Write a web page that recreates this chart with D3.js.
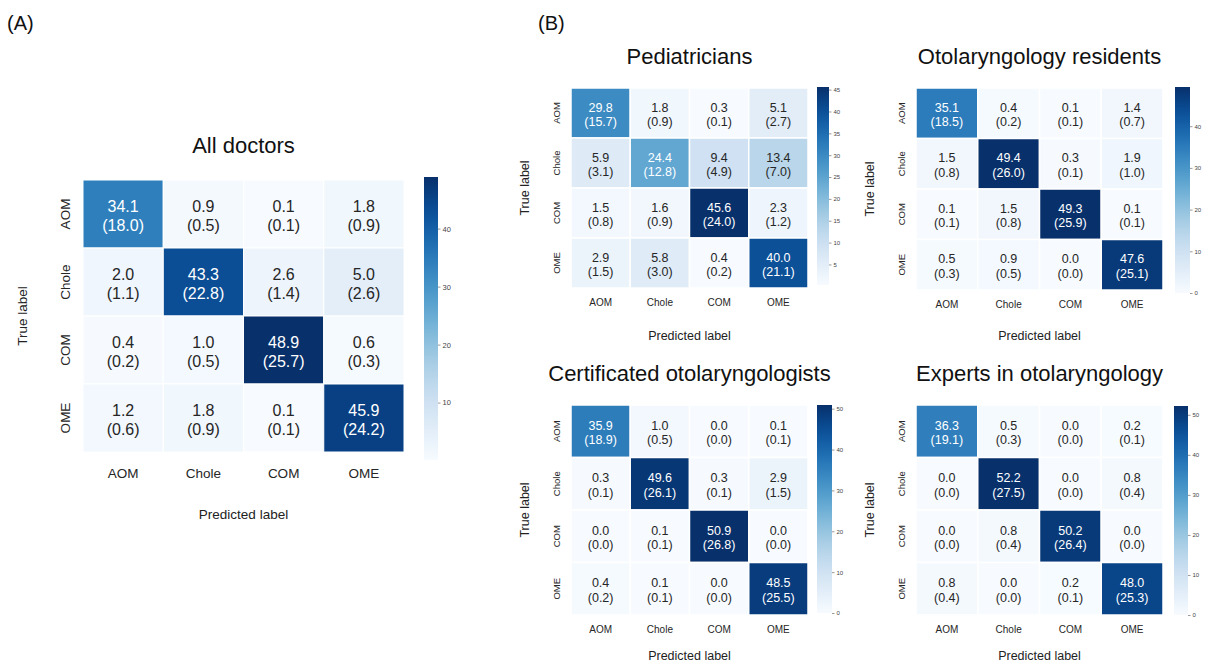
<!DOCTYPE html>
<html>
<head>
<meta charset="utf-8">
<script src="https://cdn.jsdelivr.net/npm/d3@7"></script>
<style>
  html, body { margin: 0; padding: 0; background: #fff; }
  svg { display: block; font-family: "Liberation Sans", Arial, Helvetica, sans-serif; }
</style>
</head>
<body>
<svg id="fig" width="1210" height="667"></svg>
<script>
// Class labels shared by every confusion matrix
const classes = ["AOM", "Chole", "COM", "OME"];

// Row = true label, column = predicted label; [percentage, (count)]
const allDoctorsPct = [
  [34.1, 0.9, 0.1, 1.8],
  [2.0, 43.3, 2.6, 5.0],
  [0.4, 1.0, 48.9, 0.6],
  [1.2, 1.8, 0.1, 45.9]
];
const allDoctorsCnt = [
  [18.0, 0.5, 0.1, 0.9],
  [1.1, 22.8, 1.4, 2.6],
  [0.2, 0.5, 25.7, 0.3],
  [0.6, 0.9, 0.1, 24.2]
];

const pediatriciansPct = [
  [29.8, 1.8, 0.3, 5.1],
  [5.9, 24.4, 9.4, 13.4],
  [1.5, 1.6, 45.6, 2.3],
  [2.9, 5.8, 0.4, 40.0]
];
const pediatriciansCnt = [
  [15.7, 0.9, 0.1, 2.7],
  [3.1, 12.8, 4.9, 7.0],
  [0.8, 0.9, 24.0, 1.2],
  [1.5, 3.0, 0.2, 21.1]
];

const residentsPct = [
  [35.1, 0.4, 0.1, 1.4],
  [1.5, 49.4, 0.3, 1.9],
  [0.1, 1.5, 49.3, 0.1],
  [0.5, 0.9, 0.0, 47.6]
];
const residentsCnt = [
  [18.5, 0.2, 0.1, 0.7],
  [0.8, 26.0, 0.1, 1.0],
  [0.1, 0.8, 25.9, 0.1],
  [0.3, 0.5, 0.0, 25.1]
];

const certifiedPct = [
  [35.9, 1.0, 0.0, 0.1],
  [0.3, 49.6, 0.3, 2.9],
  [0.0, 0.1, 50.9, 0.0],
  [0.4, 0.1, 0.0, 48.5]
];
const certifiedCnt = [
  [18.9, 0.5, 0.0, 0.1],
  [0.1, 26.1, 0.1, 1.5],
  [0.0, 0.1, 26.8, 0.0],
  [0.2, 0.1, 0.0, 25.5]
];

const expertsPct = [
  [36.3, 0.5, 0.0, 0.2],
  [0.0, 52.2, 0.0, 0.8],
  [0.0, 0.8, 50.2, 0.0],
  [0.8, 0.0, 0.2, 48.0]
];
const expertsCnt = [
  [19.1, 0.3, 0.0, 0.1],
  [0.0, 27.5, 0.0, 0.4],
  [0.0, 0.4, 26.4, 0.0],
  [0.4, 0.0, 0.1, 25.3]
];

// Colour-bar tick values for each panel
const allDoctorsTicks = [10, 20, 30, 40];
const pediatriciansTicks = [5, 10, 15, 20, 25, 30, 35, 40, 45];
const residentsTicks = [0, 10, 20, 30, 40];
const certifiedTicks = [0, 10, 20, 30, 40, 50];
const expertsTicks = [0, 10, 20, 30, 40, 50];

const svg = d3.select("#fig");
const defs = svg.append("defs");

// Relative luminance, used to pick white or dark annotation text
function luminance(c) {
  const rgb = d3.rgb(c);
  const f = v => { v /= 255; return v <= 0.03928 ? v / 12.92 : Math.pow((v + 0.055) / 1.055, 2.4); };
  return 0.2126 * f(rgb.r) + 0.7152 * f(rgb.g) + 0.0722 * f(rgb.b);
}

function drawMatrix(opt) {
  const { pct, cnt, ticks, title, x0, y0, w, h, cb, sty, xlabGap } = opt;
  const g = svg.append("g");
  const flat = pct.flat();
  const vmin = d3.min(flat), vmax = d3.max(flat);
  const color = d3.scaleSequential(d3.interpolateBlues).domain([vmin, vmax]);

  const xs = d3.scaleBand().domain(classes).range([x0, x0 + w]);
  const ys = d3.scaleBand().domain(classes).range([y0, y0 + h]);

  const cells = [];
  pct.forEach((row, i) => row.forEach((v, j) => cells.push({ i, j, v, c: cnt[i][j] })));

  g.selectAll("rect.cell").data(cells).join("rect")
    .attr("class", "cell")
    .attr("x", d => xs(classes[d.j]))
    .attr("y", d => ys(classes[d.i]))
    .attr("width", xs.bandwidth())
    .attr("height", ys.bandwidth())
    .attr("fill", d => color(d.v))
    .attr("stroke", "#fff")
    .attr("stroke-width", sty.gap);

  const txt = g.selectAll("text.ann").data(cells).join("text")
    .attr("class", "ann")
    .attr("text-anchor", "middle")
    .attr("font-size", sty.ann)
    .attr("fill", d => luminance(color(d.v)) < 0.408 ? "#ffffff" : "#262626");
  txt.append("tspan")
    .attr("x", d => xs(classes[d.j]) + xs.bandwidth() / 2)
    .attr("y", d => ys(classes[d.i]) + ys.bandwidth() / 2 - sty.ann * 0.12)
    .text(d => d.v.toFixed(1));
  txt.append("tspan")
    .attr("x", d => xs(classes[d.j]) + xs.bandwidth() / 2)
    .attr("y", d => ys(classes[d.i]) + ys.bandwidth() / 2 + sty.ann * 1.05)
    .text(d => "(" + d.c.toFixed(1) + ")");

  // Axes (seaborn style: no spines, ticks without lines)
  const xAxis = g.append("g")
    .attr("transform", `translate(0,${y0 + h})`)
    .call(d3.axisBottom(xs).tickSize(0).tickPadding(sty.xpad));
  xAxis.select(".domain").remove();
  xAxis.selectAll("text").attr("font-size", sty.tick).attr("fill", "#262626")
    .attr("font-family", "Liberation Sans, Arial, sans-serif");

  const yAxis = g.append("g")
    .attr("transform", `translate(${x0},0)`)
    .call(d3.axisLeft(ys).tickSize(0).tickPadding(sty.ypad));
  yAxis.select(".domain").remove();
  // Row labels are rotated and centred on their row
  yAxis.selectAll(".tick").each(function (d) {
    const t = d3.select(this);
    t.attr("transform", `translate(0,${ys(d) + ys.bandwidth() / 2})`);
    t.select("text")
      .attr("font-size", sty.ytick).attr("fill", "#262626")
      .attr("font-family", "Liberation Sans, Arial, sans-serif")
      .attr("text-anchor", "middle")
      .attr("dy", null).attr("x", 0).attr("y", 0)
      .attr("transform", `translate(${-sty.ypad},0) rotate(-90)`);
  });

  // Title and axis labels
  g.append("text").attr("x", x0 + w / 2).attr("y", y0 - sty.titleGap)
    .attr("text-anchor", "middle").attr("font-size", sty.title).attr("fill", "#111")
    .text(title);
  g.append("text").attr("x", x0 + w / 2).attr("y", y0 + h + xlabGap)
    .attr("text-anchor", "middle").attr("font-size", sty.lab).attr("fill", "#222")
    .text("Predicted label");
  g.append("text")
    .attr("transform", `translate(${x0 - sty.ylabGap},${y0 + h / 2}) rotate(-90)`)
    .attr("text-anchor", "middle").attr("font-size", sty.lab).attr("fill", "#222")
    .text("True label");

  // Colour bar
  const gradId = "grad-" + Math.round(x0) + "-" + Math.round(y0);
  const grad = defs.append("linearGradient").attr("id", gradId)
    .attr("x1", 0).attr("y1", 1).attr("x2", 0).attr("y2", 0);
  d3.range(0, 1.0001, 0.05).forEach(t => {
    grad.append("stop").attr("offset", t).attr("stop-color", d3.interpolateBlues(t));
  });
  g.append("rect").attr("x", cb.x).attr("y", cb.y).attr("width", cb.w).attr("height", cb.h)
    .attr("fill", `url(#${gradId})`);
  const cs = d3.scaleLinear().domain([vmin, vmax]).range([cb.y + cb.h, cb.y]);
  const cAxis = g.append("g").attr("transform", `translate(${cb.x + cb.w},0)`)
    .call(d3.axisRight(cs).tickValues(ticks).tickFormat(d3.format("d")).tickSize(2.5).tickPadding(2));
  cAxis.select(".domain").remove();
  cAxis.selectAll("line").attr("stroke", "#555").attr("stroke-width", 0.6);
  cAxis.selectAll("text").attr("font-size", sty.cbtick).attr("fill", "#444")
    .attr("font-family", "Liberation Sans, Arial, sans-serif");
}

const styleA = { gap: 1, ann: 16, tick: 13.5, ytick: 13.5, xpad: 16, ypad: 13, title: 22, titleGap: 27,
  lab: 13.5, ylabGap: 56, cbtick: 7.5 };
const styleB = { gap: 1.5, ann: 12.5, tick: 10, ytick: 9.5, xpad: 11, ypad: 11, title: 22, titleGap: 24,
  lab: 12.5, ylabGap: 42, cbtick: 6 };

drawMatrix({ pct: allDoctorsPct, cnt: allDoctorsCnt, ticks: allDoctorsTicks, title: "All doctors",
  x0: 83, y0: 180, w: 321, h: 272, cb: { x: 424, y: 177, w: 14, h: 283 }, sty: styleA, xlabGap: 67 });
drawMatrix({ pct: pediatriciansPct, cnt: pediatriciansCnt, ticks: pediatriciansTicks, title: "Pediatricians",
  x0: 571, y0: 88, w: 237, h: 200, cb: { x: 817, y: 87, w: 12, h: 198 }, sty: styleB, xlabGap: 52 });
drawMatrix({ pct: residentsPct, cnt: residentsCnt, ticks: residentsTicks, title: "Otolaryngology residents",
  x0: 916, y0: 88, w: 247, h: 202, cb: { x: 1175, y: 87, w: 15, h: 206 }, sty: styleB, xlabGap: 50 });
drawMatrix({ pct: certifiedPct, cnt: certifiedCnt, ticks: certifiedTicks, title: "Certificated otolaryngologists",
  x0: 571, y0: 405, w: 237, h: 210, cb: { x: 817, y: 405, w: 15, h: 208 }, sty: styleB, xlabGap: 45 });
drawMatrix({ pct: expertsPct, cnt: expertsCnt, ticks: expertsTicks, title: "Experts in otolaryngology",
  x0: 916, y0: 405, w: 247, h: 210, cb: { x: 1174, y: 406, w: 14, h: 209 }, sty: styleB, xlabGap: 45 });

// Panel letters
svg.append("text").attr("x", 7).attr("y", 30).attr("font-size", 20).attr("fill", "#111").text("(A)");
svg.append("text").attr("x", 538).attr("y", 30).attr("font-size", 20).attr("fill", "#111").text("(B)");
</script>
</body>
</html>
